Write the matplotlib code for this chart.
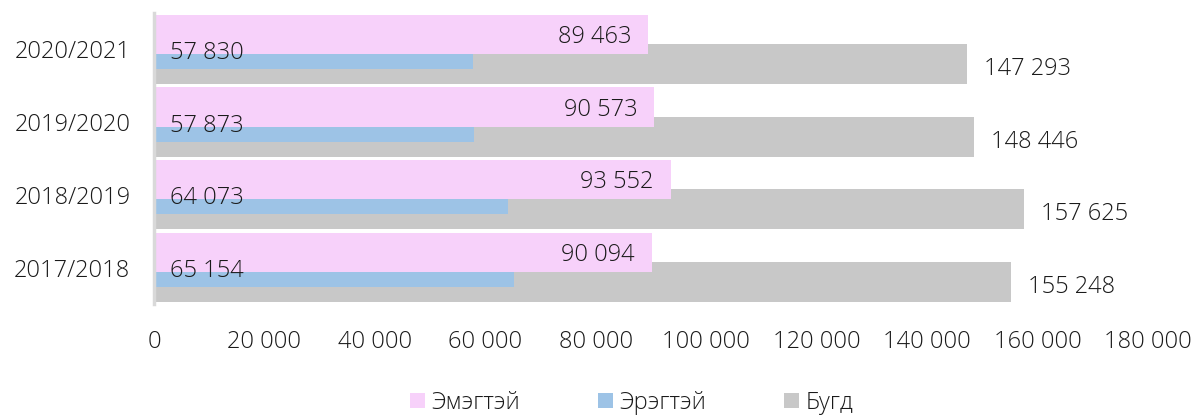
import numpy as np
import matplotlib
matplotlib.use("Agg")
import matplotlib.pyplot as plt

plt.rcParams['font.family'] = ['Open Sans', 'DejaVu Sans']
plt.rcParams['font.weight'] = 'light'

years = ['2017/2018', '2018/2019', '2019/2020', '2020/2021']
female = [90094, 93552, 90573, 89463]
male = [65154, 64073, 57873, 57830]
total = [155248, 157625, 148446, 147293]

pink = '#F7D1FA'
blue = '#9DC3E6'
gray = '#C8C8C8'
txt = '#1a1a1a'

def fmt(v):
    return f"{v:,}".replace(',', ' ')

fig = plt.figure(figsize=(11.94, 4.18), dpi=100)
ax = fig.add_axes([154/1194, (418-304)/418, 994/1194, 291/418])

y = np.arange(len(years))
b_tot = ax.barh(y - 0.2, total, height=0.55, color=gray, zorder=1, label='Бугд')
b_fem = ax.barh(y + 0.207, female, height=0.54, color=pink, zorder=2, label='Эмэгтэй')
b_mal = ax.barh(y - 0.165, male, height=0.207, color=blue, zorder=3, label='Эрэгтэй')

fs = 17
for i in range(len(years)):
    ax.annotate(fmt(female[i]), (female[i], y[i] + 0.089), xytext=(-17, 0),
                textcoords='offset pixels', ha='right', va='baseline',
                fontsize=fs, color=txt, zorder=5)
    ax.annotate(fmt(male[i]), (0, y[i] - 0.13), xytext=(16, 0),
                textcoords='offset pixels', ha='left', va='baseline',
                fontsize=fs, color=txt, zorder=5)
    ax.annotate(fmt(total[i]), (total[i], y[i] - 0.35), xytext=(17, 0),
                textcoords='offset pixels', ha='left', va='baseline',
                fontsize=fs, color=txt, zorder=5)

ax.set_xlim(0, 180000)
ax.set_ylim(-0.5, 3.5)
ax.set_xticks(np.arange(0, 180001, 20000))
ax.set_xticklabels([fmt(v) for v in range(0, 180001, 20000)])
ax.set_yticks(y)
ax.set_yticklabels(years)
ax.tick_params(axis='x', length=0, pad=19, labelsize=fs, labelcolor=txt)
ax.tick_params(axis='y', length=0, pad=17, labelsize=fs, labelcolor=txt)

for s in ['top', 'right', 'bottom']:
    ax.spines[s].set_visible(False)
ax.spines['left'].set_color('#D9D9D9')
ax.spines['left'].set_linewidth(2.5)
ax.spines['left'].set_zorder(6)

fig.legend(handles=[b_fem, b_mal, b_tot], labels=['Эмэгтэй', 'Эрэгтэй', 'Бугд'],
           loc='center', bbox_to_anchor=(632/1194, 1 - 403/418), ncol=3,
           frameon=False, fontsize=fs, handlelength=0.6, handleheight=0.6,
           handletextpad=0.3, columnspacing=3.3, labelcolor=txt)

fig.savefig('out.png', dpi=100)
